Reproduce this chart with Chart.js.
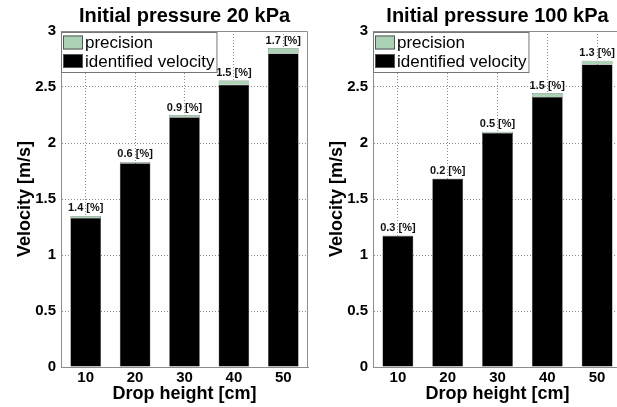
<!DOCTYPE html>
<html>
<head>
<meta charset="utf-8">
<script src="https://cdn.jsdelivr.net/npm/chart.js@4.4.0/dist/chart.umd.min.js"></script>
<style>
  html, body { margin: 0; padding: 0; background: #fff; overflow: hidden; }
  body { width: 617px; height: 407px; position: relative; }
  .panel { position: absolute; top: 0; }
  #left { left: 0; }
  #right { left: 312px; }
</style>
</head>
<body>
<canvas class="panel" id="left" width="310" height="407"></canvas>
<canvas class="panel" id="right" width="312" height="407"></canvas>
<script>
// drop heights on the x axis
const dropHeights = ['10', '20', '30', '40', '50'];

// initial pressure 20 kPa
const velocity20 = [1.33, 1.82, 2.23, 2.52, 2.80];
const band20 = [0.019, 0.011, 0.020, 0.038, 0.048];   // precision band, m/s
const percent20 = [1.4, 0.6, 0.9, 1.5, 1.7];

// initial pressure 100 kPa
const velocity100 = [1.17, 1.68, 2.09, 2.41, 2.70];
const band100 = [0.0035, 0.0034, 0.0105, 0.036, 0.035];
const percent100 = [0.3, 0.2, 0.5, 1.5, 1.3];

const FONT = '"Liberation Sans", Arial, Helvetica, sans-serif';
const GREEN = '#acd2b5';
const AXIS = '#8c8c8c';

// "x.x [%]" above every bar
const barLabels = {
    id: 'barLabels',
    afterDatasetsDraw(chart, args, opts) {
        const ctx = chart.ctx;
        const bars = chart.getDatasetMeta(1).data;
        ctx.save();
        ctx.font = 'bold 11px ' + FONT;
        ctx.fillStyle = '#111';
        ctx.textAlign = 'center';
        ctx.textBaseline = 'bottom';
        opts.values.forEach((v, i) => {
            ctx.fillText(v.toFixed(1) + ' [%]', bars[i].x, bars[i].y - 2);
        });
        ctx.restore();
    }
};

// closes the axes box and draws the legend inside the top-left corner
const boxAndKey = {
    id: 'boxAndKey',
    afterDraw(chart) {
        const ctx = chart.ctx;
        const a = chart.chartArea;
        ctx.save();
        ctx.strokeStyle = AXIS;
        ctx.lineWidth = 1;
        ctx.beginPath();
        ctx.moveTo(a.left, a.top + 0.5);
        ctx.lineTo(a.right - 0.5, a.top + 0.5);
        ctx.lineTo(a.right - 0.5, a.bottom);
        ctx.stroke();

        const items = chart.data.datasets.slice().reverse();
        ctx.font = '17px ' + FONT;
        const w = Math.max(...items.map(d => ctx.measureText(d.label).width)) + 26;
        const x0 = a.left, y0 = a.top + 1;
        ctx.fillStyle = '#fff';
        ctx.fillRect(x0, y0, w, 40);
        ctx.strokeStyle = '#777';
        ctx.strokeRect(x0 + 0.5, y0 + 0.5, w, 40);
        ctx.textBaseline = 'middle';
        items.forEach((d, i) => {
            const cy = y0 + 10.5 + i * 18.5;
            ctx.fillStyle = d.backgroundColor;
            ctx.fillRect(x0 + 2, cy - 7, 20, 14);
            ctx.strokeStyle = '#555';
            ctx.strokeRect(x0 + 2.5, cy - 6.5, 19, 13);
            ctx.fillStyle = '#000';
            ctx.fillText(d.label, x0 + 24, cy + 1);
        });
        ctx.restore();
    }
};

function makePanel(id, title, velocity, band, percent) {
    return new Chart(document.getElementById(id), {
        type: 'bar',
        data: {
            labels: dropHeights,
            datasets: [{
                label: 'identified velocity',
                data: velocity,
                backgroundColor: '#000000',
                borderColor: '#3a3a3a',
                borderWidth: 0.5
            }, {
                label: 'precision',
                data: band,
                backgroundColor: GREEN,
                borderColor: '#4d4d4d',
                borderWidth: 0.5
            }]
        },
        options: {
            responsive: false,
            animation: false,
            barPercentage: 0.62,
            categoryPercentage: 1,
            layout: { padding: { left: 0, right: 2, top: 0, bottom: 0 } },
            scales: {
                x: {
                    stacked: true,
                    offset: true,
                    grid: { offset: false, color: 'rgba(0,0,0,0.45)', drawTicks: false },
                    border: { color: AXIS, dash: [1, 2] },
                    ticks: { color: '#000', maxRotation: 0, padding: 2, font: { family: FONT, size: 15, weight: 'bold' } },
                    title: {
                        display: true,
                        text: 'Drop height [cm]',
                        color: '#000',
                        font: { family: FONT, size: 18, weight: 'bold' },
                        padding: { top: 0, bottom: 2 }
                    },
                    afterFit(s) { s.height = 40; }
                },
                y: {
                    stacked: true,
                    min: 0,
                    max: 3,
                    grid: { color: 'rgba(0,0,0,0.45)', drawTicks: false },
                    border: { color: AXIS, dash: [1, 2] },
                    ticks: {
                        stepSize: 0.5,
                        color: '#000',
                        padding: 5,
                        font: { family: FONT, size: 15, weight: 'bold' },
                        callback: v => String(Number(v))
                    },
                    title: {
                        display: true,
                        text: 'Velocity [m/s]',
                        color: '#000',
                        font: { family: FONT, size: 18, weight: 'bold' },
                        padding: { top: 14, bottom: 0 }
                    },
                    afterFit(s) { s.width = 61; }
                }
            },
            plugins: {
                legend: { display: false },
                tooltip: { enabled: false },
                title: {
                    display: true,
                    text: title,
                    fullSize: false,
                    color: '#000',
                    font: { family: FONT, size: 20, weight: 'bold' },
                    padding: { top: 4, bottom: 3 }
                },
                barLabels: { values: percent }
            }
        },
        plugins: [barLabels, boxAndKey]
    });
}

makePanel('left', 'Initial pressure 20 kPa', velocity20, band20, percent20);
makePanel('right', 'Initial pressure 100 kPa', velocity100, band100, percent100);
</script>
</body>
</html>
